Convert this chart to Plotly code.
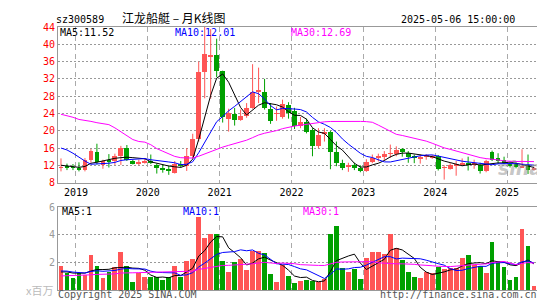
import numpy as np
import plotly.graph_objects as go

# ---------------- data (monthly, Oct 2018 .. May 2025) ----------------
open_ = [11.4, 11.8, 11.6, 11.4, 10.9, 13.2, 15.0, 12.1, 13.3, 13.0,
         14.1, 16.1, 13.0, 12.4, 12.6, 13.1, 12.0, 11.5, 11.0, 10.2,
         12.3, 11.85, 14.1, 18.2, 33.6, 37.2, 37.6, 33.9, 22.8, 23.8,
         22.5, 23.4, 25.3, 28.9, 28.9, 25.1, 23.9, 23.1, 25.9, 24.5,
         21.0, 22.1, 20.1, 16.4, 19.4, 19.6, 15.0, 12.5, 11.8, 12.1,
         11.3, 10.8, 12.8, 13.8, 14.0, 14.7, 14.7, 15.8, 14.9, 14.1,
         13.6, 14.1, 13.9, 14.1, 11.4, 11.2, 11.9, 12.1, 12.5, 12.2,
         12.0, 10.7, 15.0, 13.6, 13.2, 12.4, 12.4, 11.6, 12.0, 11.0]
close = [11.6, 11.6, 11.4, 10.9, 13.2, 15.3, 12.8, 12.9, 13.0, 14.1,
         16.1, 13.3, 12.4, 12.7, 13.1, 12.6, 11.6, 11.1, 10.8, 12.2,
         11.9, 14.1, 18.2, 33.6, 37.7, 37.4, 33.9, 23.1, 24.0, 22.5,
         23.4, 25.3, 29.0, 29.4, 25.3, 22.3, 24.1, 26.3, 24.0, 21.2,
         22.1, 19.8, 16.4, 19.1, 19.6, 15.0, 12.6, 11.3, 12.0, 11.5,
         10.6, 12.7, 13.7, 13.9, 14.7, 14.8, 15.6, 15.1, 14.0, 13.9,
         13.8, 14.3, 14.1, 11.1, 11.6, 12.1, 12.1, 12.6, 12.2, 12.6,
         10.8, 13.1, 13.3, 13.0, 12.6, 11.9, 11.6, 11.9, 11.0, 11.2]
high = [13.6, 12.4, 12.3, 12.7, 13.7, 15.8, 17.0, 13.3, 14.6, 14.7,
        16.5, 16.7, 13.3, 13.3, 13.7, 14.5, 12.4, 12.2, 12.0, 13.0,
        13.0, 16.0, 19.3, 36.0, 44.0, 43.5, 41.3, 33.9, 25.1, 25.3,
        24.9, 26.4, 35.4, 34.6, 32.0, 26.4, 25.6, 27.2, 26.6, 25.3,
        23.2, 22.8, 20.6, 20.6, 20.6, 20.0, 17.5, 13.3, 12.6, 12.6,
        12.0, 13.4, 14.5, 14.7, 15.3, 16.8, 16.4, 16.0, 15.3, 14.5,
        14.5, 14.6, 14.4, 14.4, 12.0, 12.5, 13.0, 13.6, 14.0, 13.3,
        12.6, 13.3, 15.4, 14.8, 14.0, 12.8, 12.7, 15.7, 14.5, 11.6]
low = [10.6, 10.9, 10.9, 10.6, 10.6, 12.6, 12.2, 11.2, 11.5, 12.1,
       12.1, 13.0, 12.2, 12.0, 12.4, 12.3, 10.1, 10.3, 9.8, 10.1,
       11.5, 10.7, 13.7, 17.5, 27.5, 27.4, 32.4, 21.9, 19.8, 21.2,
       22.3, 23.0, 25.1, 26.4, 24.9, 21.6, 22.3, 22.8, 22.8, 20.4,
       20.6, 19.4, 14.1, 16.0, 17.5, 11.1, 11.8, 10.9, 10.5, 10.9,
       10.4, 10.5, 12.5, 12.9, 13.0, 13.7, 14.1, 14.0, 12.6, 12.5,
       12.4, 13.3, 13.5, 10.8, 8.7, 11.0, 9.6, 12.0, 10.8, 11.2,
       10.1, 10.4, 13.0, 12.3, 12.3, 11.5, 11.3, 11.4, 10.0, 10.8]
volume = [1.74, 1.21, 0.88, 1.19, 1.10, 2.50, 1.74, 0.88, 1.29, 1.64,
          2.71, 1.74, 0.57, 1.19, 0.95, 0.95, 0.90, 0.71, 0.93, 1.74,
          0.95, 2.10, 2.20, 5.30, 3.74, 4.07, 4.07, 2.10, 1.31, 2.02,
          2.21, 1.43, 2.81, 2.81, 2.64, 1.14, 0.57, 1.81, 1.02, 0.52,
          0.60, 0.71, 0.62, 0.55, 0.81, 4.02, 4.64, 1.57, 1.29, 1.48,
          0.79, 2.30, 2.72, 2.72, 2.60, 4.07, 3.00, 2.14, 1.30, 0.94,
          0.86, 1.27, 1.25, 1.67, 1.52, 1.57, 1.60, 2.33, 2.50, 1.79,
          1.70, 1.21, 3.43, 2.10, 1.67, 0.71, 0.93, 4.43, 3.14, 0.24]
# months before the visible window, only used to feed the moving averages
prior_close = [20.6, 23.4, 25.9, 17.7, 24.3, 21.8, 17.4, 22.0, 36.6, 43.1,
               44.8, 34.9, 26.2, 17.6, 30.6, 38.6, 29.1, 28.8, 30.2, 20.9,
               16.0, 19.0, 20.6, 21.5, 22.8, 12.5, 12.0, 11.8, 12.2]
prior_volume = [0.90, 0.80, 1.00, 0.90, 0.80, 0.90, 0.85, 0.95, 0.90, 0.80,
                0.85, 0.95, 0.85, 0.70, 0.80, 0.75, 0.80, 0.70, 0.85, 0.75,
                1.30, 1.60, 1.50, 1.45, 1.40, 1.20, 1.30, 1.10, 1.21]
year_pos = [3, 15, 27, 39, 51, 63, 75]   # index of January bars
year_labels = ['2019', '2020', '2021', '2022', '2023', '2024', '2025']
price_ticks = [8, 12, 16, 20, 24, 28, 32, 36, 40, 44]
vol_ticks = [2, 4, 6]
ma_text = ['MA5:11.52', 'MA10:12.01', 'MA30:12.69']
vma_text = ['MA5:1', 'MA10:1', 'MA30:1']

RED = '#ff5555'
GREEN = '#00a000'
MA_COL = ['#000000', '#0000ff', '#ff00ff']
MONO = 'DejaVu Sans Mono'


def moving(series, prior, n):
    s = np.array(list(prior) + list(series), float)
    out = np.convolve(s, np.ones(n) / n, mode='valid')
    return out[-len(series):]


n = len(close)
idx = np.arange(n)
up = [close[i] >= open_[i] for i in range(n)]

fig = go.Figure()


def add_candles(mask, color):
    xs = [i for i in range(n) if mask[i]]
    base = [min(open_[i], close[i]) for i in xs]
    hgt = [max(abs(close[i] - open_[i]), 0.15) for i in xs]
    fig.add_trace(go.Bar(x=xs, y=hgt, base=base, width=0.8,
                         marker=dict(color=color, line=dict(width=0)),
                         xaxis='x', yaxis='y', hoverinfo='skip'))
    wx, wy = [], []
    for i in xs:
        wx += [i, i, None]
        wy += [low[i], high[i], None]
    fig.add_trace(go.Scatter(x=wx, y=wy, mode='lines',
                             line=dict(color=color, width=1),
                             xaxis='x', yaxis='y', hoverinfo='skip'))


add_candles(up, RED)
add_candles([not u for u in up], GREEN)

for k, p in enumerate([5, 10, 30]):
    fig.add_trace(go.Scatter(x=idx, y=moving(close, prior_close, p), mode='lines',
                             line=dict(color=MA_COL[k], width=1),
                             xaxis='x', yaxis='y', hoverinfo='skip'))

for mask, color in [(up, RED), ([not u for u in up], GREEN)]:
    xs = [i for i in range(n) if mask[i]]
    fig.add_trace(go.Bar(x=xs, y=[volume[i] for i in xs], width=0.8,
                         marker=dict(color=color, line=dict(width=0)),
                         xaxis='x2', yaxis='y2', hoverinfo='skip'))

for k, p in enumerate([5, 10, 30]):
    fig.add_trace(go.Scatter(x=idx, y=moving(volume, prior_volume, p), mode='lines',
                             line=dict(color=MA_COL[k], width=1),
                             xaxis='x2', yaxis='y2', hoverinfo='skip'))

# ---------------- layout ----------------
W, H = 545, 300
L, R, T, B = 50, 16, 19, 14


def ax(px):
    return (px - L) / (W - L - R)


def ay(py):
    return (H - B - py) / (H - T - B)


grid_x = [p - 0.5 for p in year_pos]
frame = dict(showline=True, mirror=True, linecolor='#999999', linewidth=1,
             zeroline=False, ticks='')

fig.update_layout(
    width=W, height=H, margin=dict(l=L, r=R, t=T, b=B),
    paper_bgcolor='white', plot_bgcolor='white',
    showlegend=False, barmode='overlay', bargap=0,
    xaxis=dict(domain=[0, 1], anchor='y', range=[-0.5, n - 0.5],
               tickvals=grid_x, ticktext=year_labels,
               tickfont=dict(family=MONO, size=10, color='#000'),
               showgrid=True, gridcolor='#aaaaaa', griddash='5px,4px', gridwidth=1,
               **frame),
    yaxis=dict(domain=[ay(177), 1], anchor='x', range=[8, 44],
               tickvals=price_ticks,
               tickfont=dict(family=MONO, size=10, color='#ff0000'),
               showgrid=True, gridcolor='#999999', griddash='2px,2px', gridwidth=1,
               **frame),
    xaxis2=dict(domain=[0, 1], anchor='y2', range=[-0.5, n - 0.5],
                tickvals=grid_x, showticklabels=False,
                showgrid=True, gridcolor='#aaaaaa', griddash='5px,4px', gridwidth=1,
                **frame),
    yaxis2=dict(domain=[0, ay(202)], anchor='x2', range=[0, 6],
                tickvals=vol_ticks,
                tickfont=dict(family=MONO, size=10, color='#999999'),
                showgrid=True, gridcolor='#999999', griddash='2px,2px', gridwidth=1,
                **frame),
)

ann = []


def text(s, px, py, anchor='left', color='#000', size=10, family=MONO, **kw):
    ann.append(dict(text=s, x=ax(px), y=ay(py), xref='paper', yref='paper',
                    xanchor=anchor, yanchor='middle', showarrow=False,
                    borderpad=0,
                    font=dict(family=family, size=size, color=color, **kw)))


text('sz300589', 47, 11)
text('江龙船艇 – 月K线图', 166, 9.5, anchor='center', size=12,
     family='Noto Sans CJK SC')
text('2025-05-06 15:00:00', 508, 11, anchor='right')
for s, px, c in zip(ma_text, [51, 166, 282], MA_COL):
    text(s, px, 25, color=c)
for s, px, c in zip(vma_text, [53, 174, 294], MA_COL):
    text(s, px, 206, color=c)
text('Copyright 2025 SINA.COM', 49, 291, color='#555555')
text('http://finance.sina.com.cn', 530, 291, anchor='right', color='#555555')
text('x百万', 46, 286, anchor='right', color='#bbbbbb', size=11,
     family='Noto Sans CJK SC')
text('sina', 512, 162, anchor='center', color='rgba(150,150,150,0.55)', size=19,
     family='DejaVu Sans', style='italic', weight='bold')
fig.update_layout(annotations=ann)

fig.write_html('out.html')
